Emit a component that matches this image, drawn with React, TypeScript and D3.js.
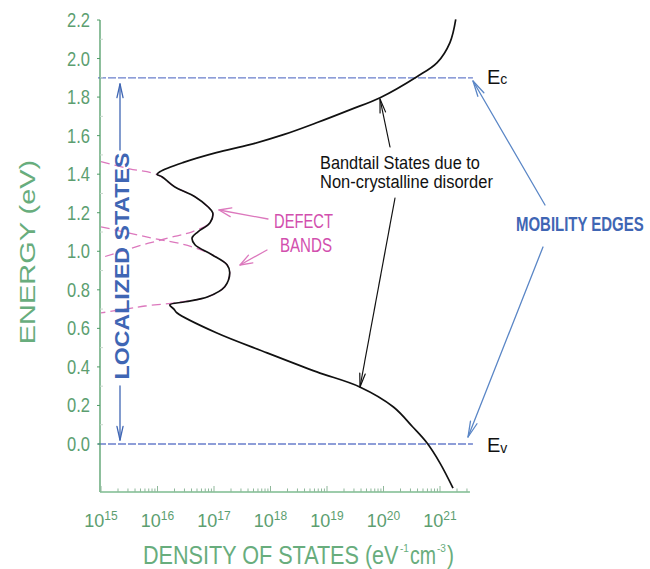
import React from 'react';
import * as d3 from 'd3';

// Energy axis ticks (eV) and density-of-states decades (log10)
const energyTicks = [0, 0.2, 0.4, 0.6, 0.8, 1.0, 1.2, 1.4, 1.6, 1.8, 2.0, 2.2];
const dosDecades = [15, 16, 17, 18, 19, 20, 21];

// Mobility edges
const edgeNames = ['c', 'v'];
const edgeEnergies = [1.9, 0.0];

// Total density of states (black curve)
const dosEnergy = [
  2.203, 2.083, 1.979, 1.906, 1.797, 1.735, 1.668, 1.605, 1.553, 1.512, 1.46, 1.413, 1.399, 1.387,
  1.335, 1.283, 1.231, 1.2, 1.148, 1.101, 1.07, 1.034, 0.982, 0.93, 0.888, 0.816, 0.764, 0.738,
  0.722, 0.7, 0.681, 0.577, 0.473, 0.374, 0.296, 0.192, 0.088, 0.005, -0.099, -0.229,
];
const dosValue = [
  1.9e21, 1.5e21, 8.9e20, 3.9e20, 8.7e19, 2.6e19, 6.7e18, 1.7e18, 4.3e17, 1.1e17, 2.8e16, 1.1e16, 9.8e15, 1.2e16,
  2.0e16, 4.6e16, 7.8e16, 9.5e16, 8.5e16, 5.2e16, 4.1e16, 4.6e16, 9.2e16, 1.7e17, 1.9e17, 1.55e17, 7.8e16, 3.1e16,
  1.65e16, 1.95e16, 2.2e16, 1.1e17, 8.7e17, 6.6e18, 3.8e19, 1.5e20, 3.3e20, 5.9e20, 1.0e21, 1.7e21,
];

// Upper defect band (pink dashed)
const upperBandEnergy = [1.465, 1.428, 1.397, 1.335, 1.283, 1.231, 1.2, 1.148, 1.101, 1.077, 1.03, 0.966];
const upperBandValue = [1.0e15, 3.2e15, 1.0e16, 2.0e16, 4.6e16, 7.8e16, 9.5e16, 8.5e16, 4.1e16, 2.0e16, 5.0e15, 1.0e15];

// Lower defect band (pink dashed)
const lowerBandEnergy = [1.127, 1.07, 1.03, 0.982, 0.93, 0.888, 0.816, 0.764, 0.738, 0.716, 0.7, 0.68];
const lowerBandValue = [1.0e15, 7.6e15, 3.4e16, 9.2e16, 1.7e17, 1.9e17, 1.55e17, 7.8e16, 2.8e16, 6.0e15, 2.7e15, 1.0e15];

const FONT = "'Liberation Sans', Arial, sans-serif";
const GREEN_AXIS = '#4f9c66';
const GREEN_TEXT = '#5c9e70';
const GREEN_TITLE = '#68ad7d';
const BLUE = '#3f66b4';
const BLUE_ARROW = '#5a86c6';
const BLUE_DASH = '#6a7fcc';
const PINK = '#d24fae';
const PINK_LINE = '#dc78bd';

let measureCtx: CanvasRenderingContext2D | null = null;
function measure(text: string, size: number, weight: string) {
  if (!measureCtx) measureCtx = document.createElement('canvas').getContext('2d');
  if (!measureCtx) return text.length * size * 0.6;
  measureCtx.font = `${weight} ${size}px 'Liberation Sans', Arial, sans-serif`;
  return measureCtx.measureText(text).width;
}

// Text squeezed horizontally to a given width (condensed look)
function FitText({ x, y, text, size, width, anchor = 'start', weight = 'normal', fill, rotate = 0 }:
  { x: number; y: number; text: string; size: number; width: number; anchor?: string; weight?: string; fill: string; rotate?: number }) {
  const s = width / measure(text, size, weight);
  return (
    <text transform={`translate(${x},${y}) rotate(${rotate}) scale(${s},1)`} textAnchor={anchor}
      fontFamily={FONT} fontSize={size} fontWeight={weight} fill={fill}>
      {text}
    </text>
  );
}

function Arrow({ x1, y1, x2, y2, color, head = 12, angle = 0.28, width = 1.3 }:
  { x1: number; y1: number; x2: number; y2: number; color: string; head?: number; angle?: number; width?: number }) {
  const a = Math.atan2(y2 - y1, x2 - x1);
  const p1 = [x2 - head * Math.cos(a - angle), y2 - head * Math.sin(a - angle)];
  const p2 = [x2 - head * Math.cos(a + angle), y2 - head * Math.sin(a + angle)];
  return (
    <g stroke={color} strokeWidth={width} fill="none" strokeLinecap="round" strokeLinejoin="round">
      <line x1={x1} y1={y1} x2={x2} y2={y2} />
      <polyline points={`${p1[0]},${p1[1]} ${x2},${y2} ${p2[0]},${p2[1]}`} />
    </g>
  );
}

export default function App() {
  const W = 650;
  const H = 569;
  const x = d3.scaleLog().domain([1e15, 1e21]).range([101, 440]);
  const y = d3.scaleLinear().domain([0, 2.2]).range([444, 20]);
  const axisX = 100;
  const axisBottom = y(-0.249);
  const axisRight = x(Math.pow(10, 21.53));

  const mkLine = (es: number[], vs: number[]) =>
    d3.line<number>()
      .x((i) => x(vs[i]))
      .y((i) => y(es[i]))
      .curve(d3.curveCatmullRom.alpha(0.5))(d3.range(es.length)) || '';

  const minorTicks: { v: number; major: boolean }[] = [];
  dosDecades.forEach((d) => {
    for (let m = 1; m <= 9; m++) {
      const v = m * Math.pow(10, d);
      if (x(v) <= axisRight) minorTicks.push({ v, major: m === 1 });
    }
  });

  return (
    <svg width={W} height={H} style={{ position: 'absolute', left: 0, top: 0, background: '#fff' }}>
      {/* defect bands */}
      <path d={mkLine(upperBandEnergy, upperBandValue)} fill="none" stroke={PINK_LINE} strokeWidth={1.3} strokeDasharray="9,5" />
      <path d={mkLine(lowerBandEnergy, lowerBandValue)} fill="none" stroke={PINK_LINE} strokeWidth={1.3} strokeDasharray="9,5" />

      {/* mobility edge dashed lines */}
      {edgeEnergies.map((e, i) => (
        <line key={'edge' + i} x1={axisX - 2} x2={axisRight + 3} y1={y(e)} y2={y(e)} stroke={BLUE_DASH} strokeWidth={1.3} strokeDasharray="8,2" />
      ))}

      {/* total DOS */}
      <path d={mkLine(dosEnergy, dosValue)} fill="none" stroke="#111" strokeWidth={1.7} />

      {/* axes */}
      <line x1={axisX} x2={axisX} y1={y(2.2)} y2={axisBottom} stroke={GREEN_AXIS} strokeWidth={1.3} />
      <line x1={axisX} x2={axisRight} y1={axisBottom} y2={axisBottom} stroke="#7dbb8f" strokeWidth={1.3} />
      {minorTicks.map((t, i) => (
        <line key={'mt' + i} x1={x(t.v)} x2={x(t.v)} y1={axisBottom} y2={axisBottom - (t.major ? 6 : 3.5)} stroke="#8fb89a" strokeWidth={1} />
      ))}
      {energyTicks.map((e) => (
        <g key={'yt' + e}>
          <line x1={axisX - 3} x2={axisX} y1={y(e)} y2={y(e)} stroke={GREEN_AXIS} strokeWidth={1} />
          <FitText x={90} y={y(e) + 7} text={e.toFixed(1)} size={20} width={23} anchor="end" fill={GREEN_TEXT} />
        </g>
      ))}
      {energyTicks.slice(0, -1).map((e) => (
        <line key={'ym' + e} x1={axisX} x2={axisX + 3} y1={y(e + 0.1)} y2={y(e + 0.1)} stroke="#c8d8cc" strokeWidth={1} />
      ))}
      {dosDecades.map((d) => (
        <text key={'xt' + d} x={x(Math.pow(10, d))} y={527} textAnchor="middle" fontFamily={FONT} fontSize={18} fill={GREEN_TEXT}>
          10<tspan dy={-7} fontSize={12}>{d}</tspan>
        </text>
      ))}

      {/* axis titles */}
      <FitText x={143} y={564} text="DENSITY OF STATES (eV" size={26} width={256} fill={GREEN_TITLE} />
      <text x={400} y={552} fontFamily={FONT} fontSize={10} fill={GREEN_TITLE}>-1</text>
      <FitText x={410} y={564} text="cm" size={26} width={26} fill={GREEN_TITLE} />
      <text x={437} y={552} fontFamily={FONT} fontSize={10} fill={GREEN_TITLE}>-3</text>
      <FitText x={447} y={564} text=")" size={26} width={7} fill={GREEN_TITLE} />
      <FitText x={35} y={252} rotate={-90} text="ENERGY (eV)" size={22} width={185} anchor="middle" fill={GREEN_TITLE} />

      {/* localized states */}
      <FitText x={129} y={266} rotate={-90} text="LOCALIZED STATES" size={20} width={227} anchor="middle" weight="bold" fill={BLUE} />
      <Arrow x1={120} y1={150} x2={120} y2={84} color={BLUE} head={14} angle={0.22} />
      <Arrow x1={120} y1={386} x2={120} y2={440} color={BLUE} head={14} angle={0.22} />

      {/* mobility edge labels */}
      {edgeEnergies.map((e, i) => (
        <text key={'el' + i} x={487} y={y(e) + (i === 0 ? 6 : 8)} fontFamily={FONT} fontSize={20} fill="#111">
          E<tspan fontSize={14} dy={i === 0 ? 0 : 1}>{edgeNames[i]}</tspan>
        </text>
      ))}

      {/* bandtail annotation */}
      <FitText x={320} y={169} text="Bandtail States due to" size={19} width={160} fill="#111" />
      <FitText x={320} y={188} text="Non-crystalline disorder" size={19} width={173} fill="#111" />
      <Arrow x1={390} y1={147} x2={380} y2={99} color="#111" head={14} angle={0.2} width={1.2} />
      <Arrow x1={395} y1={198} x2={360} y2={387} color="#111" head={14} angle={0.2} width={1.2} />

      {/* defect bands annotation */}
      <FitText x={274} y={228} text="DEFECT" size={21} width={59} fill={PINK} />
      <FitText x={280} y={252} text="BANDS" size={21} width={52} fill={PINK} />
      <Arrow x1={268} y1={219} x2={219} y2={210} color={PINK_LINE} head={13} angle={0.35} />
      <Arrow x1={267} y1={250} x2={240} y2={265} color={PINK_LINE} head={13} angle={0.35} />

      {/* mobility edges annotation */}
      <FitText x={516} y={231} text="MOBILITY EDGES" size={21} width={128} weight="bold" fill={BLUE} />
      <Arrow x1={545} y1={205} x2={473} y2={81} color={BLUE_ARROW} head={16} angle={0.22} />
      <Arrow x1={543} y1={247} x2={468} y2={437} color={BLUE_ARROW} head={16} angle={0.22} />
    </svg>
  );
}
